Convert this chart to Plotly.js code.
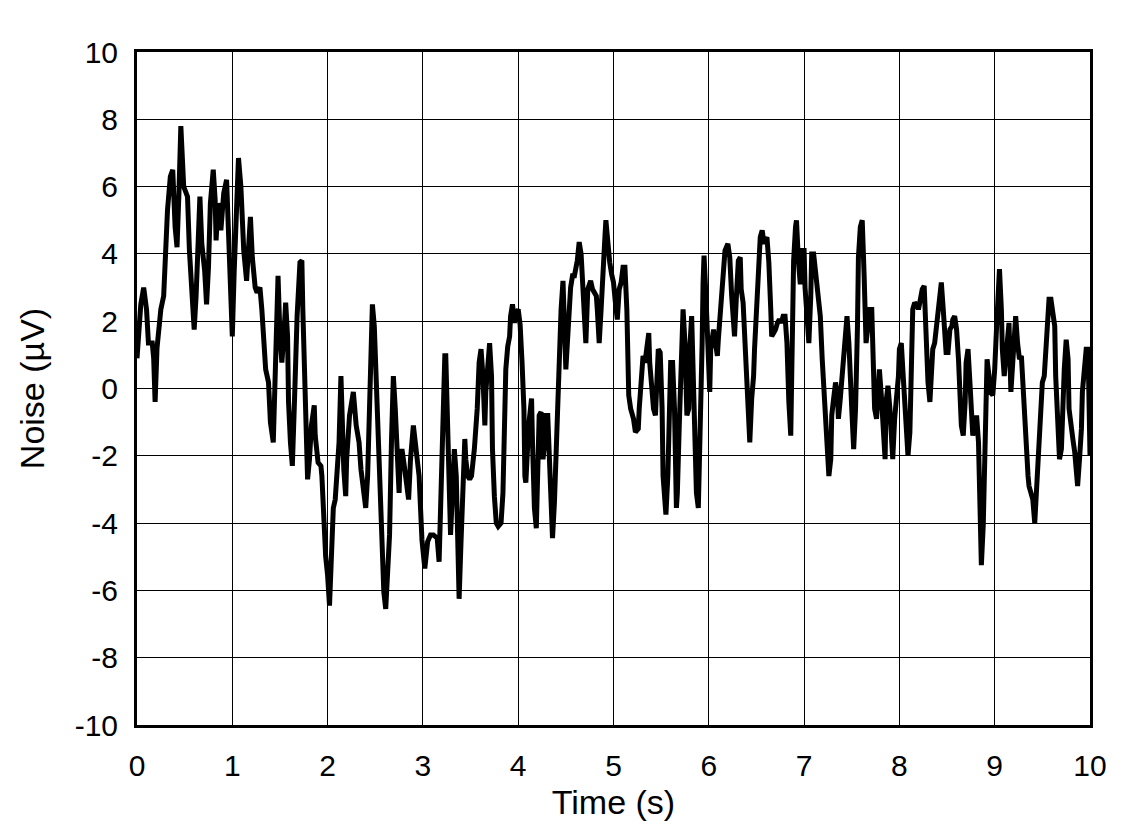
<!DOCTYPE html>
<html>
<head>
<meta charset="utf-8">
<script src="https://cdn.plot.ly/plotly-3.0.1.min.js"></script>
<style>html,body{margin:0;padding:0;background:#fff;}#chart{width:1136px;height:838px;}</style>
</head>
<body>
<div id="chart"></div>
<script>
const timeS = [0,0.04,0.07,0.1,0.12,0.16,0.175,0.19,0.21,0.25,0.28,0.32,0.35,0.375,0.40,0.42,0.44,0.46,0.49,0.53,0.55,0.58,0.60,0.62,0.63,0.66,0.68,0.71,0.73,0.75,0.77,0.80,0.82,0.83,0.85,0.87,0.88,0.91,0.94,0.96,0.975,1.0,1.02,1.045,1.065,
1.09,1.1,1.12,1.15,1.17,1.19,1.21,1.24,1.26,1.29,1.31,1.33,1.35,1.38,1.40,1.43,1.44,1.46,1.48,1.50,1.52,1.54,1.56,1.58,1.59,1.61,1.63,1.65,1.66,1.68,1.71,1.73,1.74,1.76,1.78,1.79,1.81,1.83,1.86,1.87,1.90,1.93,1.94,1.96,1.98,2.0,2.02,2.04,2.06,2.08,2.10,2.12,2.14,2.15,2.17,2.19,2.20,2.23,2.26,2.27,2.30,2.33,2.35,2.38,2.40,2.42,2.44,2.45,2.47,2.49,2.51,2.53,2.55,2.57,2.59,2.61,2.63,2.65,2.67,2.69,2.71,2.73,2.75,2.76,2.78,2.80,2.83,2.85,2.87,2.90,2.92,2.94,2.96,2.99,
3.02,3.05,3.08,3.11,3.15,3.17,3.19,3.21,3.23,3.24,3.26,3.28,3.29,3.31,3.33,3.35,3.36,3.38,3.40,3.42,3.44,3.45,3.47,3.49,3.51,3.54,3.57,3.59,3.61,3.63,3.65,3.66,3.68,3.70,3.72,3.73,3.75,3.77,3.79,3.82,3.84,3.86,3.87,3.89,3.91,3.92,3.94,3.96,3.98,4.0,4.02,4.04,4.06,4.07,4.08,4.11,4.13,4.14,4.15,4.17,4.19,4.20,4.22,4.24,4.26,4.28,4.29,4.31,4.33,4.35,4.36,4.38,4.40,4.42,4.43,4.45,4.47,4.49,4.50,4.52,4.53,4.55,4.57,4.59,4.62,4.64,4.66,4.68,4.69,4.71,4.73,4.76,4.78,4.80,4.82,4.83,4.85,4.87,4.89,4.91,4.92,4.94,4.96,4.98,
5.0,5.02,5.04,5.06,5.08,5.10,5.12,5.14,5.15,5.16,5.18,5.21,5.23,5.26,5.27,5.29,5.31,5.33,5.35,5.37,5.38,5.40,5.42,5.44,5.45,5.47,5.49,5.51,5.52,5.55,5.57,5.59,5.60,5.62,5.64,5.66,5.67,5.69,5.71,5.73,5.75,5.77,5.79,5.80,5.82,5.84,5.86,5.87,5.89,5.91,5.93,5.94,5.95,5.97,5.99,6.01,6.02,6.05,6.07,6.09,6.10,6.13,6.15,6.17,6.20,6.22,6.24,6.26,6.27,6.29,6.31,6.33,6.34,6.36,6.38,6.40,6.41,6.43,6.45,6.47,6.48,6.50,6.52,6.54,6.56,6.58,6.61,6.63,6.65,6.66,6.68,6.70,6.72,6.74,6.76,6.78,6.80,6.82,6.84,6.86,6.87,6.89,6.91,6.92,6.94,6.96,6.98,
7.0,7.01,7.03,7.05,7.07,7.08,7.10,7.12,7.14,7.15,7.17,7.19,7.21,7.22,7.24,7.26,7.28,7.29,7.31,7.33,7.35,7.36,7.38,7.40,7.42,7.43,7.45,7.47,7.49,7.50,7.52,7.54,7.56,7.57,7.59,7.61,7.63,7.64,7.65,7.67,7.69,7.71,7.72,7.74,7.76,7.78,7.79,7.81,7.83,7.85,7.86,7.88,7.90,7.92,7.93,7.95,7.97,7.99,
8.0,8.02,8.04,8.06,8.07,8.09,8.11,8.13,8.14,8.16,8.19,8.20,8.22,8.24,8.26,8.27,8.28,8.30,8.32,8.34,8.35,8.37,8.39,8.41,8.42,8.44,8.46,8.48,8.49,8.51,8.53,8.55,8.56,8.58,8.60,8.62,8.63,8.65,8.67,8.69,8.70,8.72,8.74,8.76,8.77,8.79,8.81,8.83,8.84,8.86,8.88,8.90,8.92,8.94,8.95,8.98,
9.0,9.02,9.03,9.05,9.07,9.08,9.10,9.12,9.14,9.15,9.17,9.19,9.21,9.22,9.24,9.26,9.28,9.29,9.31,9.33,9.35,9.36,9.38,9.40,9.42,9.43,9.45,9.47,9.49,9.50,9.52,9.54,9.56,9.57,9.59,9.61,9.63,9.64,9.66,9.68,9.70,9.71,9.73,9.75,9.77,9.78,9.80,9.82,9.84,9.85,9.87,9.89,9.91,9.92,9.94,9.96,9.98,9.99,10.0];

const noiseUV = [0.9,2.5,3.0,2.35,1.35,1.35,0.9,-0.4,1.2,2.35,2.75,5.3,6.3,6.5,4.8,4.2,5.8,7.8,6.0,5.7,4.1,2.75,1.75,2.75,3.8,5.7,4.3,3.5,2.5,3.6,5.5,6.5,5.6,4.4,5.5,5.3,4.7,5.8,6.2,4.8,3.8,1.55,3.5,6.0,6.85,
6.0,5.3,4.1,3.2,4.1,5.1,3.9,3.0,2.85,3.0,2.35,1.07,0.57,0.18,-1.0,-1.6,-0.4,1.85,3.35,1.55,0.77,1.55,2.55,1.55,-0.4,-1.6,-2.3,-0.6,0.37,2.15,3.75,3.8,2.35,-0.1,-1.6,-2.7,-2.1,-1.1,-0.5,-1.4,-2.2,-2.3,-2.6,-4.3,-5.0,-5.55,-6.45,-5.0,-3.55,-3.3,-2.6,-1.6,0.37,-0.8,-2.4,-3.2,-2.1,-0.8,-0.4,-0.1,-1.1,-1.6,-2.4,-3.1,-3.55,-2.6,-0.1,1.35,2.5,1.85,0.18,-1.6,-3.55,-4.95,-6.05,-6.55,-5.55,-4.35,-1.6,0.37,-0.6,-2.4,-3.1,-2.2,-1.8,-2.2,-2.8,-3.3,-2.1,-1.1,-1.6,-2.0,-2.6,-4.5,
-5.35,-4.55,-4.35,-4.35,-4.45,-5.15,-2.9,-0.6,0.97,0.97,-1.4,-2.9,-4.35,-3.1,-1.8,-2.6,-4.55,-6.25,-4.55,-2.6,-1.5,-2.1,-2.6,-2.7,-2.6,-1.8,-0.6,0.77,1.17,0.37,-1.1,-0.1,0.77,1.35,0.37,-1.8,-3.2,-4.0,-4.1,-4.0,-3.1,-0.9,0.57,1.25,1.55,2.15,2.5,1.95,2.25,2.35,1.9,0.8,-0.6,-2.6,-2.8,-1.1,-0.4,-0.3,-1.6,-3.55,-4.15,-2.6,-0.8,-0.7,-2.1,-1.6,-0.8,-0.8,-2.2,-3.0,-4.45,-3.4,-1.6,-0.1,1.35,2.35,3.2,1.95,0.57,1.55,2.35,3.0,3.35,3.35,3.8,4.35,4.0,2.85,1.85,1.35,2.95,3.2,2.95,2.85,2.75,2.35,1.35,2.35,3.8,4.5,5.0,4.3,3.75,3.4,
3.15,2.55,2.05,2.95,3.15,3.6,3.6,2.35,0.87,-0.2,-0.6,-0.9,-1.3,-1.2,-0.6,0.37,0.97,0.77,1.17,1.65,0.77,0.08,-0.6,-0.8,-0.3,1.17,1.07,-0.6,-2.6,-3.75,-2.6,-0.8,0.77,0.77,-0.6,-3.55,-3.1,-1.1,0.57,2.35,1.35,-0.8,-0.6,1.17,2.15,-0.2,-2.1,-3.1,-3.55,-1.6,1.35,3.15,3.95,2.75,1.17,-0.1,1.17,1.75,1.35,0.97,1.45,2.55,3.55,4.1,4.3,3.9,2.75,1.85,1.55,2.75,3.8,3.9,2.95,2.55,1.35,0.37,-0.6,-1.6,-0.3,0.37,1.17,2.35,3.8,4.5,4.7,4.3,4.5,3.75,2.35,1.55,1.65,1.75,1.95,2.05,1.95,2.15,2.15,1.35,-0.4,-1.4,0.37,3.8,4.8,5.0,3.8,3.1,4.1,
4.1,3.0,2.05,1.35,2.75,4.0,4.0,3.35,3.05,2.75,2.15,0.87,-0.1,-0.8,-2.1,-2.6,-2.1,-0.8,-0.3,0.18,-0.2,-0.9,-0.3,0.37,1.17,1.75,2.15,1.35,0.37,-0.6,-1.8,-0.6,1.85,3.9,4.8,5.0,3.35,1.85,1.35,1.85,2.35,2.35,1.35,-0.6,-0.9,0.37,0.57,-0.2,-1.2,-2.1,-0.4,0.08,-0.6,-2.1,-2.1,-0.9,-0.4,0.37,
1.17,1.35,0.37,-0.4,-1.2,-2.0,-1.3,0.87,2.35,2.55,2.45,2.35,2.65,2.95,3.05,2.15,1.17,0.18,-0.4,0.77,1.17,1.35,1.85,2.35,2.85,3.15,2.35,1.55,1.07,1.07,1.75,1.85,2.05,2.15,1.75,0.87,-0.1,-1.1,-1.4,-0.4,0.77,1.17,0.18,-0.9,-1.4,-1.1,-0.8,-1.6,-2.9,-5.25,-4.05,-1.6,0.87,0.37,-0.1,-0.2,
0.57,1.85,2.85,3.55,2.35,1.17,0.37,1.17,1.95,1.95,-0.1,0.97,1.55,2.15,1.35,0.87,0.97,0.37,-0.6,-1.6,-2.6,-2.9,-3.1,-3.3,-4.0,-3.4,-2.1,-1.1,-0.1,0.18,0.37,1.35,2.55,2.65,2.65,2.35,1.85,0.37,-1.1,-2.1,-1.8,-0.6,0.57,1.45,0.87,-0.6,-1.2,-1.5,-1.9,-2.4,-2.9,-2.1,-1.2,-0.1,0.77,1.17,1.17,-0.6,-2.0];

const xTickVals = [0,1,2,3,4,5,6,7,8,9,10];
const xTickText = ['0','1','2','3','4','5','6','7','8','9','10'];
const yTickVals = [-10,-8,-6,-4,-2,0,2,4,6,8,10];
const yTickText = ['-10','-8','-6','-4','-2','0','2','4','6','8','10'];
const xTitle = 'Time (s)';
const yTitle = 'Noise (µV)';

const font = 'Liberation Sans, Arial, sans-serif';

Plotly.newPlot('chart', [{
  x: timeS, y: noiseUV, type: 'scatter', mode: 'lines',
  line: {color: '#000', width: 5, shape: 'linear'}, hoverinfo: 'skip'
}], {
  width: 1136, height: 838,
  margin: {l: 137, r: 46, t: 52, b: 113},
  paper_bgcolor: '#fff', plot_bgcolor: '#fff',
  showlegend: false,
  font: {family: font, color: '#000', size: 30},
  xaxis: {
    range: [0, 10], tickvals: xTickVals, ticktext: xTickText, ticks: '',
    showgrid: true, gridcolor: '#000', gridwidth: 1,
    zeroline: false, showline: true, linecolor: '#000', linewidth: 3, mirror: true,
    tickfont: {family: font, size: 30, color: '#000'},
    ticklabelstandoff: 12,
    title: {text: xTitle, font: {family: font, size: 34, color: '#000'}, standoff: 10}
  },
  yaxis: {
    range: [-10, 10], tickvals: yTickVals, ticktext: yTickText, ticks: '',
    showgrid: true, gridcolor: '#000', gridwidth: 1,
    zeroline: false, showline: true, linecolor: '#000', linewidth: 3, mirror: true,
    tickfont: {family: font, size: 30, color: '#000'},
    ticklabelstandoff: 10,
    title: {text: yTitle, font: {family: font, size: 34, color: '#000'}, standoff: 20}
  }
}, {displayModeBar: false, staticPlot: true});
</script>
</body>
</html>
